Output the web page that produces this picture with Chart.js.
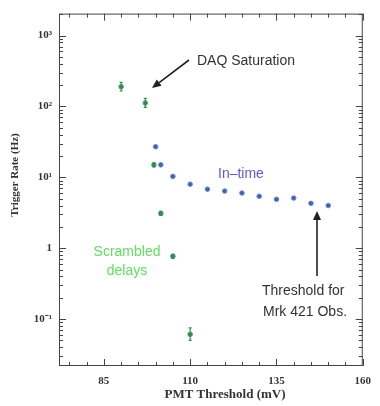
<!DOCTYPE html>
<html><head><meta charset="utf-8">
<script src="https://cdn.jsdelivr.net/npm/chart.js@4"></script>
<style>html,body{margin:0;padding:0;background:#fff}#w{width:380px;height:406px}</style>
</head><body><div id="w"><canvas id="c"></canvas></div>
<script>
// Data
const inTimeX = [100, 101.5, 105, 110, 115, 120, 125, 130, 135, 140, 145, 150];
const inTimeY = [27, 15, 10.3, 8.0, 6.8, 6.4, 6.0, 5.4, 4.9, 5.1, 4.3, 4.0];
const scrX  = [90, 97, 99.5, 101.5, 105, 110];
const scrY  = [190, 112, 15, 3.1, 0.77, 0.061];
const scrLo = [165, 97, 14, 2.9, 0.72, 0.050];
const scrHi = [218, 130, 16, 3.3, 0.82, 0.075];
const xMajorTicks = [85, 110, 135, 160];
const xMinorTicks = [75, 80, 90, 95, 100, 105, 115, 120, 125, 130, 140, 145, 150, 155];
const yMajorTicks = [0.1, 1, 10, 100, 1000];
const yTickLabels = ['10\u207B\u00B9', '1', '10\u00B9', '10\u00B2', '10\u00B3'];

const frame = {
  id: 'frame',
  afterDatasetsDraw(chart) {
    const {ctx, chartArea: a, scales: {x, y}} = chart;
    ctx.save();
    // error bars
    ctx.strokeStyle = '#2f8f55'; ctx.lineWidth = 1.2;
    scrX.forEach((v, i) => {
      const px = x.getPixelForValue(v);
      const p1 = y.getPixelForValue(scrLo[i]), p2 = y.getPixelForValue(scrHi[i]);
      ctx.beginPath(); ctx.moveTo(px, p1); ctx.lineTo(px, p2); ctx.stroke();
      ctx.beginPath(); ctx.moveTo(px-1.5, p1); ctx.lineTo(px+1.5, p1);
      ctx.moveTo(px-1.5, p2); ctx.lineTo(px+1.5, p2); ctx.stroke();
    });
    ctx.restore();
  },
  afterDraw(chart) {
    const {ctx, chartArea: a, scales: {x, y}} = chart;
    ctx.save();
    ctx.strokeStyle = '#444'; ctx.lineWidth = 1;
    ctx.strokeRect(a.left + 0.5, a.top + 0.5, a.right - a.left - 1, a.bottom - a.top - 1);
    ctx.beginPath();
    const xt = (v, len) => {
      const px = Math.round(x.getPixelForValue(v)) + 0.5;
      ctx.moveTo(px, a.bottom); ctx.lineTo(px, a.bottom - len);
      ctx.moveTo(px, a.top); ctx.lineTo(px, a.top + len);
    };
    xMajorTicks.forEach(v => xt(v, 7));
    xMinorTicks.forEach(v => xt(v, 4));
    const yt = (v, len) => {
      const py = Math.round(y.getPixelForValue(v)) + 0.5;
      if (py < a.top || py > a.bottom) return;
      ctx.moveTo(a.left, py); ctx.lineTo(a.left + len, py);
      ctx.moveTo(a.right, py); ctx.lineTo(a.right - len, py);
    };
    yMajorTicks.forEach(v => yt(v, 7));
    for (let d = 0.01; d < 5000; d *= 10) {
      for (let m = 2; m <= 9; m++) yt(d * m, 4);
    }
    ctx.stroke();

    // axis titles
    ctx.fillStyle = '#333';
    ctx.font = 'bold 13px "Liberation Serif", serif';
    ctx.textAlign = 'center'; ctx.textBaseline = 'middle';
    ctx.fillText('PMT Threshold (mV)', 225, 395);
    ctx.save();
    ctx.translate(15, 175); ctx.rotate(-Math.PI / 2);
    ctx.font = 'bold 11px "Liberation Serif", serif';
    ctx.fillText('Trigger Rate (Hz)', 0, 0);
    ctx.restore();

    // annotations
    ctx.font = '14px "Liberation Sans", Arial, sans-serif';
    ctx.textAlign = 'left';
    ctx.fillStyle = '#333';
    ctx.fillText('DAQ Saturation', 197, 61);
    ctx.fillText('Threshold for', 262, 291);
    ctx.fillText('Mrk 421 Obs.', 263, 312);
    ctx.fillStyle = '#5a5ae6';
    ctx.fillText('In\u2013time', 218, 174);
    ctx.fillStyle = '#5fe05f';
    ctx.textAlign = 'center';
    ctx.fillText('Scrambled', 127, 252);
    ctx.fillText('delays', 127, 271);

    // arrows
    const arrow = (x1, y1, x2, y2) => {
      ctx.strokeStyle = '#222'; ctx.fillStyle = '#222'; ctx.lineWidth = 1.6;
      const ang = Math.atan2(y2 - y1, x2 - x1);
      const hl = 9, hw = 4;
      const bx = x2 - hl * Math.cos(ang), by = y2 - hl * Math.sin(ang);
      ctx.beginPath(); ctx.moveTo(x1, y1); ctx.lineTo(bx, by); ctx.stroke();
      ctx.beginPath();
      ctx.moveTo(x2, y2);
      ctx.lineTo(bx + hw * Math.sin(ang), by - hw * Math.cos(ang));
      ctx.lineTo(bx - hw * Math.sin(ang), by + hw * Math.cos(ang));
      ctx.closePath(); ctx.fill();
    };
    arrow(189, 60, 152, 88);
    arrow(317, 276, 317, 211);
    ctx.restore();
  }
};

new Chart(document.getElementById('c'), {
  type: 'scatter',
  data: {
    datasets: [
      {
        label: 'In-time',
        data: inTimeX.map((v, i) => ({x: v, y: inTimeY[i]})),
        pointStyle: 'circle', pointRadius: 2.3,
        backgroundColor: '#4060b8', borderColor: '#6f88d0', borderWidth: 1
      },
      {
        label: 'Scrambled delays',
        data: scrX.map((v, i) => ({x: v, y: scrY[i]})),
        pointStyle: 'circle', pointRadius: 2.3,
        backgroundColor: '#2f8050', borderColor: '#50a86a', borderWidth: 1
      }
    ]
  },
  options: {
    responsive: true, maintainAspectRatio: false, animation: false,
    layout: {padding: {left: 0, top: 13, right: 8, bottom: 0}},
    plugins: {legend: {display: false}, tooltip: {enabled: false}},
    scales: {
      x: {
        type: 'linear', min: 72, max: 160,
        grid: {display: false, drawTicks: false},
        border: {display: false},
        afterBuildTicks: s => { s.ticks = xMajorTicks.map(v => ({value: v})); },
        afterFit: s => { s.height = 40; },
        ticks: {
          padding: 9, color: '#333', maxRotation: 0, autoSkip: false,
          font: {family: '"Liberation Serif", serif', size: 11, weight: 'bold'},
          callback: v => String(v)
        }
      },
      y: {
        type: 'logarithmic', min: 0.0218, max: 2040,
        grid: {display: false, drawTicks: false},
        border: {display: false},
        afterBuildTicks: s => { s.ticks = yMajorTicks.map(v => ({value: v})); },
        afterFit: s => { s.width = 59; },
        ticks: {
          padding: 7, color: '#333', autoSkip: false,
          font: {family: '"Liberation Serif", serif', size: 11, weight: 'bold'},
          callback: (v) => { const i = yMajorTicks.indexOf(v); return i >= 0 ? yTickLabels[i] : ''; }
        }
      }
    }
  },
  plugins: [frame]
});
</script>
</body></html>
